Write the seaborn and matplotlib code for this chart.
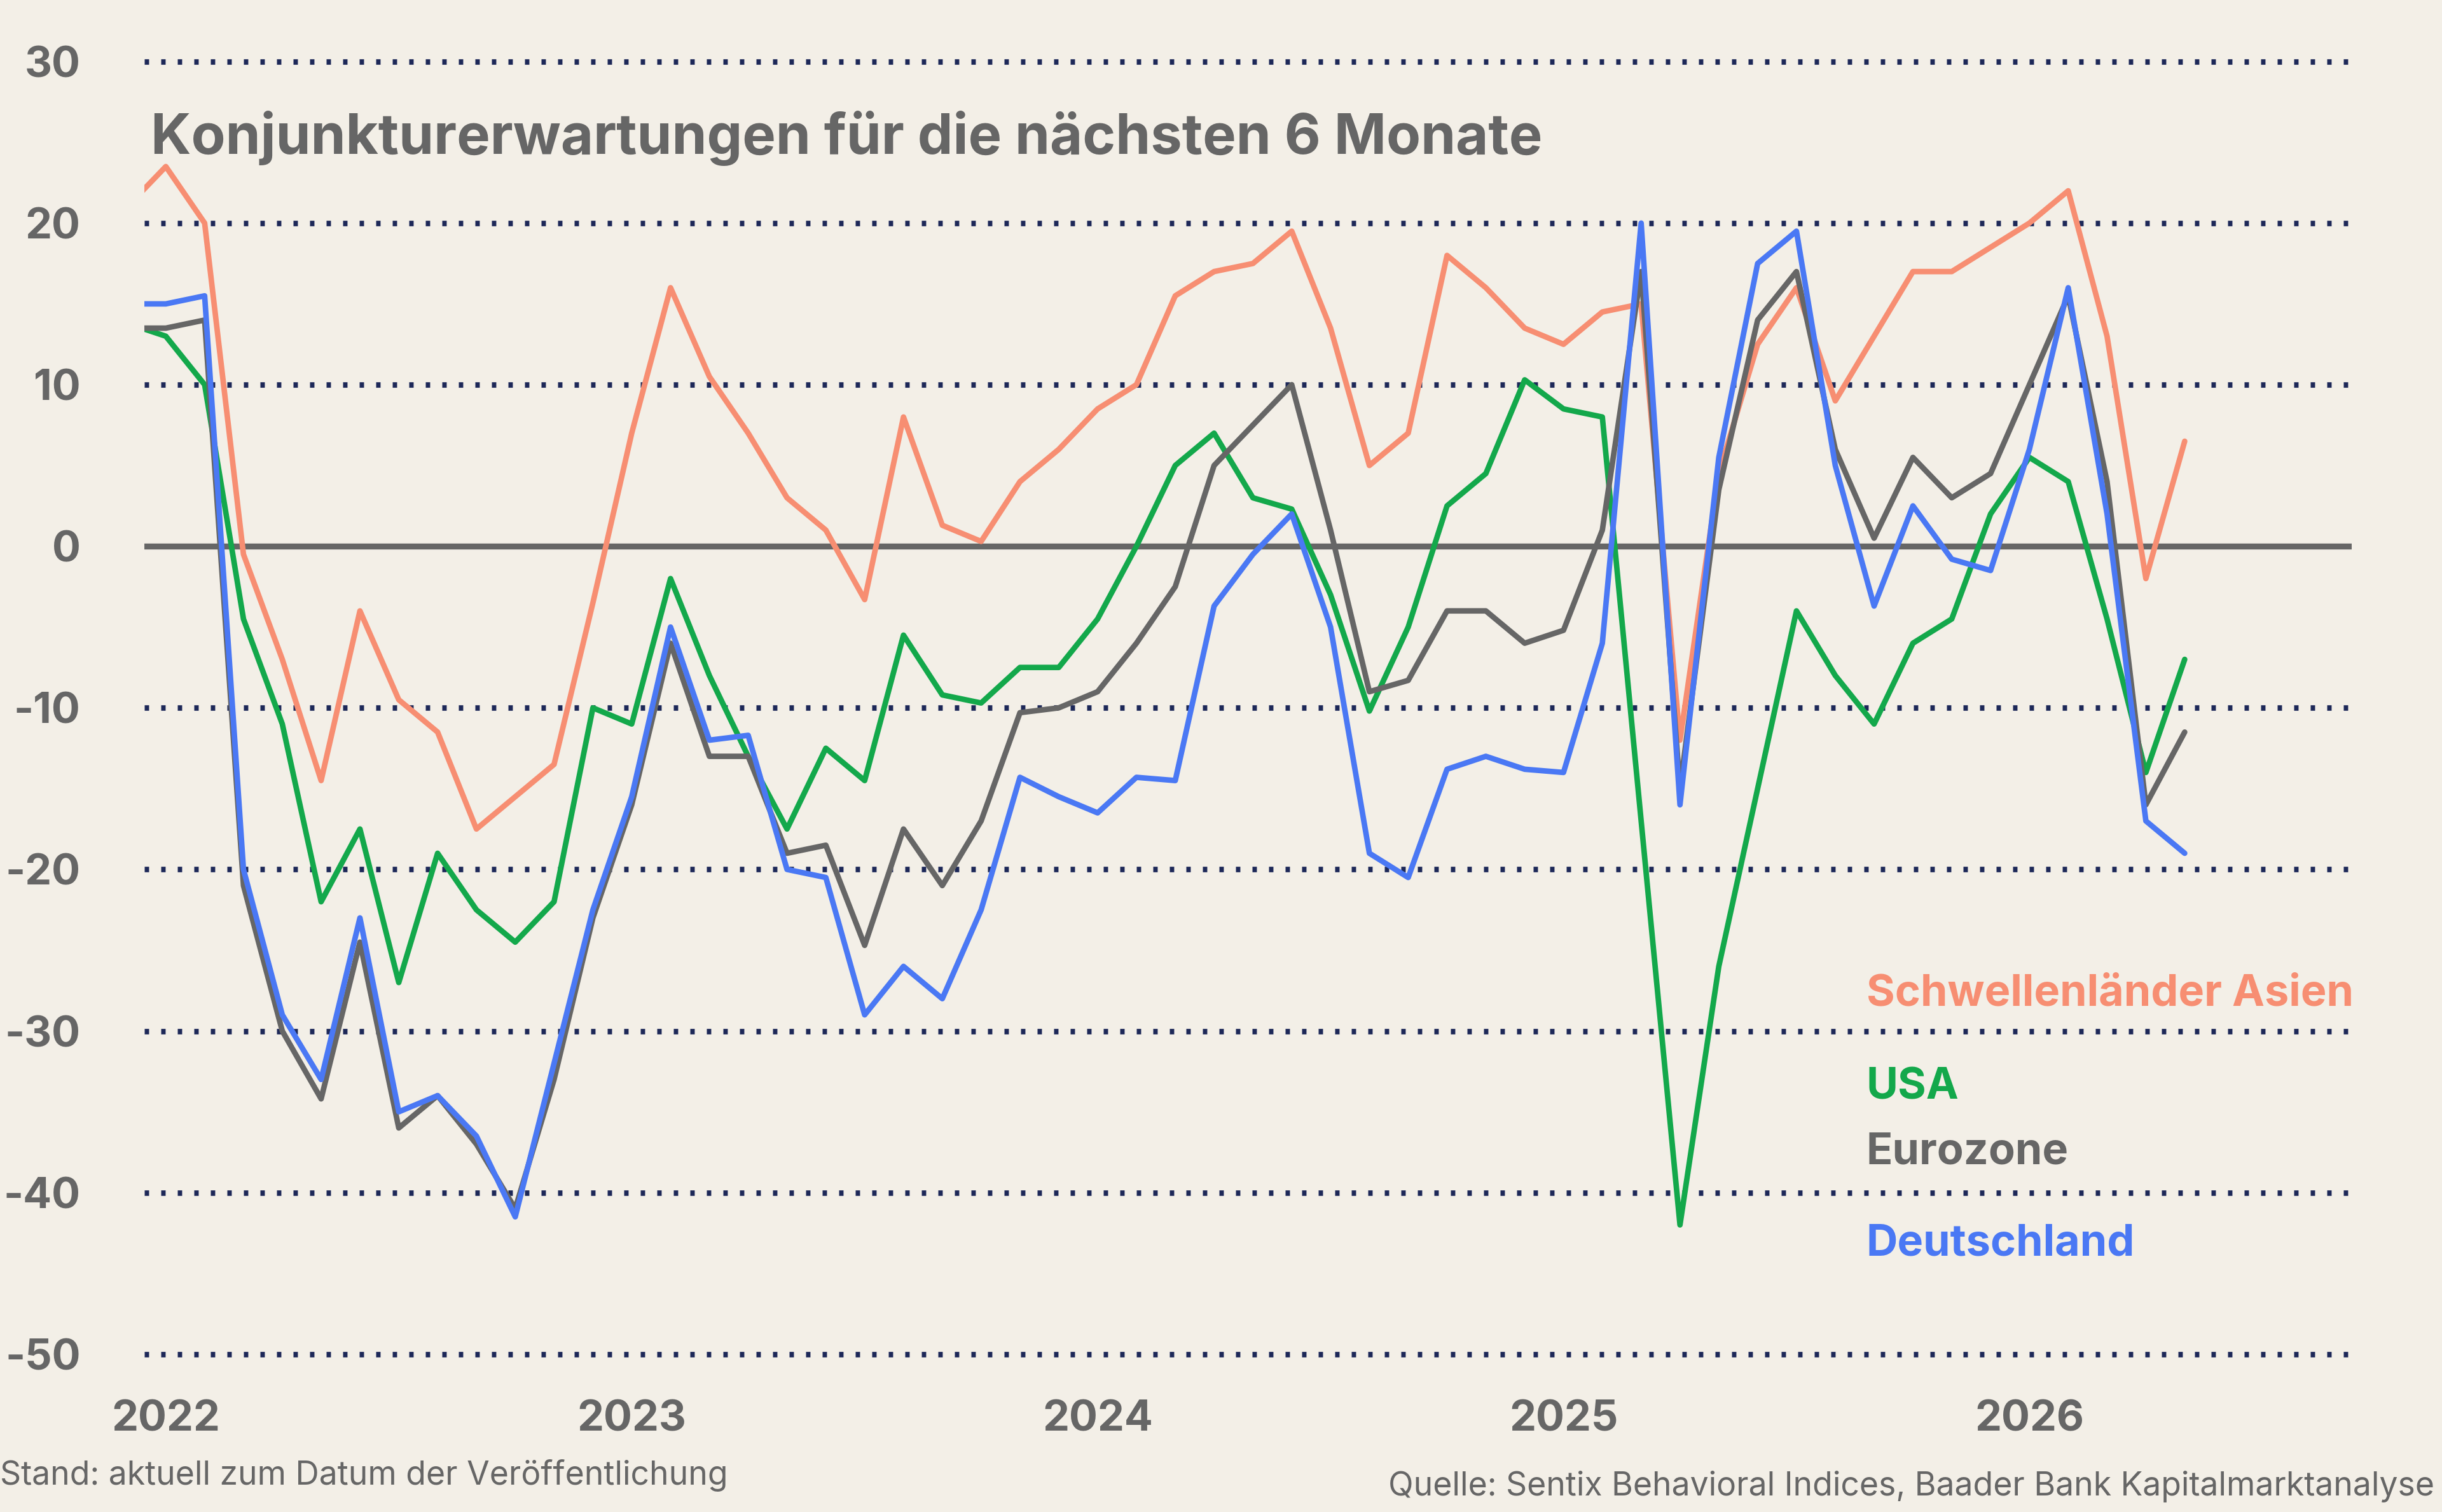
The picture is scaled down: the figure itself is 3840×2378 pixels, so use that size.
import numpy as np
import pandas as pd
import matplotlib.pyplot as plt
import seaborn as sns

# months from Dec 2021 (index -1) to May 2026 (index 52)
months = list(range(-1, 53))

asien = [21, 23.5, 20, -0.5, -7, -14.5, -4, -9.5, -11.5, -17.5, -15.5, -13.5, -3.5,
         7, 16, 10.5, 7, 3, 1, -3.3, 8, 1.3, 0.3, 4, 6, 8.5, 10, 15.5, 17, 17.5,
         19.5, 13.5, 5, 7, 18, 16, 13.5, 12.5, 14.5, 15, -12, 4.5, 12.5, 16, 9,
         13, 17, 17, 18.5, 20, 22, 13, -2, 6.5]
usa = [13.8, 13, 10, -4.5, -11, -22, -17.5, -27, -19, -22.5, -24.5, -22, -10,
       -11, -2, -8, -13, -17.5, -12.5, -14.5, -5.5, -9.2, -9.7, -7.5, -7.5, -4.5,
       0, 5, 7, 3, 2.3, -3, -10.2, -5, 2.5, 4.5, 10.3, 8.5, 8, -17, -42, -26,
       -15, -4, -8, -11, -6, -4.5, 2, 5.5, 4, -4.5, -14, -7]
eurozone = [13.5, 13.5, 14, -21, -30, -34.2, -24.5, -36, -34, -37, -41, -33, -23,
            -16, -6, -13, -13, -19, -18.5, -24.7, -17.5, -21, -17, -10.3, -10, -9,
            -6, -2.5, 5, 7.5, 10, 1, -9, -8.3, -4, -4, -6, -5.2, 1, 17, -15, 3.5,
            14, 17, 6, 0.5, 5.5, 3, 4.5, 10, 15.5, 4, -16, -11.5]
deutschland = [15, 15, 15.5, -20, -29, -33, -23, -35, -34, -36.5, -41.5, -32, -22.5,
               -15.5, -5, -12, -11.7, -20, -20.5, -29, -26, -28, -22.5, -14.3, -15.5,
               -16.5, -14.3, -14.5, -3.7, -0.5, 2, -5, -19, -20.5, -13.8, -13, -13.8,
               -14, -6, 20, -16, 5.5, 17.5, 19.5, 5, -3.7, 2.5, -0.8, -1.5, 6, 16, 2,
               -17, -19]

series_names = ["Schwellenländer Asien", "USA", "Eurozone", "Deutschland"]
year_ticks = [0, 12, 24, 36, 48]
year_labels = ["2022", "2023", "2024", "2025", "2026"]
y_ticks = [30, 20, 10, 0, -10, -20, -30, -40, -50]

colors = {"Schwellenländer Asien": "#f78e72", "USA": "#13a84b",
          "Eurozone": "#666666", "Deutschland": "#4a78f4"}
bg = "#f3efe7"

df = pd.DataFrame({"month": months * 4,
                   "value": asien + usa + eurozone + deutschland,
                   "series": np.repeat(series_names, len(months))})

sns.set_theme(style="white")
plt.rcParams["font.family"] = ["Inter", "DejaVu Sans"]
plt.rcParams["axes.unicode_minus"] = False

fig = plt.figure(figsize=(16, 2378 / 240), dpi=240, facecolor=bg)
ax = fig.add_axes([0.059, 0.0937, 0.904, 0.8763], facecolor=bg)

for y in y_ticks:
    if y == 0:
        continue
    ax.axhline(y, color="#1d2858", lw=2.6, ls=(0, (0.8, 2.2)), zorder=1)
ax.axhline(0, color="#666666", lw=2.8, zorder=1)

# draw order: asia, usa, eurozone, germany on top
sns.lineplot(data=df, x="month", y="value", hue="series", palette=colors,
             hue_order=series_names, lw=2.6, legend=False, ax=ax, zorder=3)

ax.set_xlim(-0.56, 56.3)
ax.set_ylim(-51, 31)
for s in ax.spines.values():
    s.set_visible(False)
ax.set_xticks(year_ticks)
ax.set_xticklabels(year_labels)
ax.set_yticks(y_ticks)
ax.tick_params(length=0)
ax.tick_params(axis="y", pad=30)
ax.tick_params(axis="x", pad=14)
for lab in ax.get_xticklabels() + ax.get_yticklabels():
    lab.set_fontsize(20)
    lab.set_fontweight("bold")
    lab.set_color("#666666")
ax.set_xlabel("")
ax.set_ylabel("")

ax.text(0.003, 0.93, "Konjunkturerwartungen für die nächsten 6 Monate",
        transform=ax.transAxes, fontsize=26.5, fontweight="bold", color="#666666",
        va="center", ha="left")

legend_pos = {"Schwellenländer Asien": -27.7, "USA": -33.5,
              "Eurozone": -37.5, "Deutschland": -43.2}
for name, yv in legend_pos.items():
    ax.text(43.8, yv, name, fontsize=20.5, fontweight="bold", color=colors[name],
            ha="left", va="center")

fig.text(0.0, 0.024, "Stand: aktuell zum Datum der Veröffentlichung",
         fontsize=15.5, color="#666666", ha="left", va="center")
fig.text(0.997, 0.017, "Quelle: Sentix Behavioral Indices, Baader Bank Kapitalmarktanalyse",
         fontsize=15.5, color="#666666", ha="right", va="center")

fig.savefig("out.png", dpi=240, facecolor=bg)
